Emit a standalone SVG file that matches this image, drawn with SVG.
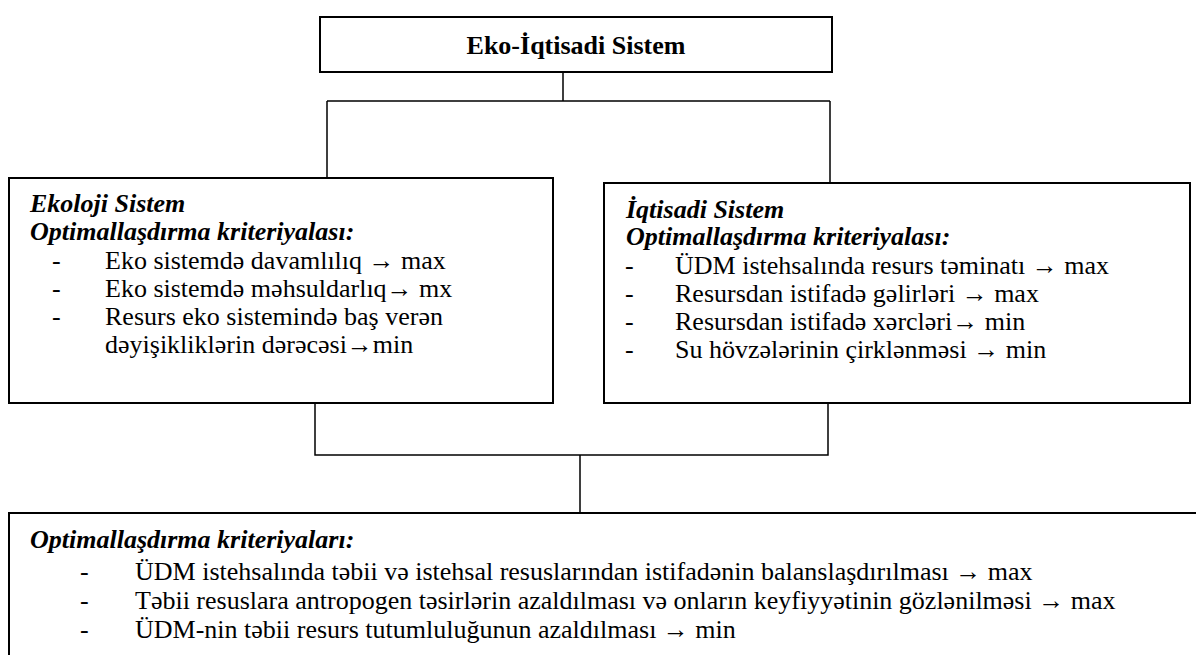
<svg xmlns="http://www.w3.org/2000/svg" width="1196" height="655" viewBox="0 0 1196 655">
<style>
.box{fill:#fff;stroke:#000;stroke-width:2}
.ln{stroke:#000;stroke-width:1.5;fill:none}
.t{font-weight:bold;text-anchor:middle}
.h{font-weight:bold;font-style:italic}
</style>
<rect width="1196" height="655" fill="#fff"/>
<g id="connectors">
<path class="ln" d="M563,72 V101 M327,101 H830 M327,101 V178 M830,101 V183"/>
<path class="ln" d="M315,403 V455 H828 V403 M580,455 V513"/>
</g>
<g font-family="'Liberation Serif', 'Times New Roman', serif" font-size="26" fill="#000">
<g id="top">
<rect class="box" x="320" y="17" width="512" height="55"/>
<text class="t" x="576" y="54">Eko-İqtisadi Sistem</text>
</g>
<g id="ekoloji">
<rect class="box" x="9" y="178" width="544" height="225"/>
<text class="h" x="30" y="212">Ekoloji Sistem</text>
<text class="h" x="30" y="240">Optimallaşdırma kriteriyalası:</text>
<text x="52" y="269">-</text><text x="105" y="269">Eko sistemdə davamlılıq → max</text>
<text x="52" y="297">-</text><text x="105" y="297">Eko sistemdə məhsuldarlıq→ mx</text>
<text x="52" y="325">-</text><text x="105" y="325">Resurs eko sistemində baş verən</text>
<text x="105" y="353">dəyişikliklərin dərəcəsi→min</text>
</g>
<g id="iqtisadi">
<rect class="box" x="604" y="183" width="586" height="220"/>
<text class="h" x="626" y="218">İqtisadi Sistem</text>
<text class="h" x="626" y="245">Optimallaşdırma kriteriyalası:</text>
<text x="625" y="274">-</text><text x="675" y="274">ÜDM istehsalında resurs təminatı → max</text>
<text x="625" y="302">-</text><text x="675" y="302">Resursdan istifadə gəlirləri → max</text>
<text x="625" y="330">-</text><text x="675" y="330">Resursdan istifadə xərcləri→ min</text>
<text x="625" y="358">-</text><text x="675" y="358">Su hövzələrinin çirklənməsi → min</text>
</g>
<g id="bottom">
<rect class="box" x="9" y="513" width="1200" height="160"/>
<text class="h" x="30" y="548">Optimallaşdırma kriteriyaları:</text>
<text x="80" y="580">-</text><text x="135" y="580">ÜDM istehsalında təbii və istehsal resuslarından istifadənin balanslaşdırılması → max</text>
<text x="80" y="609">-</text><text x="135" y="609">Təbii resuslara antropogen təsirlərin azaldılması və onların keyfiyyətinin gözlənilməsi → max</text>
<text x="80" y="638">-</text><text x="135" y="638">ÜDM-nin təbii resurs tutumluluğunun azaldılması → min</text>
</g>
</g>
</svg>
